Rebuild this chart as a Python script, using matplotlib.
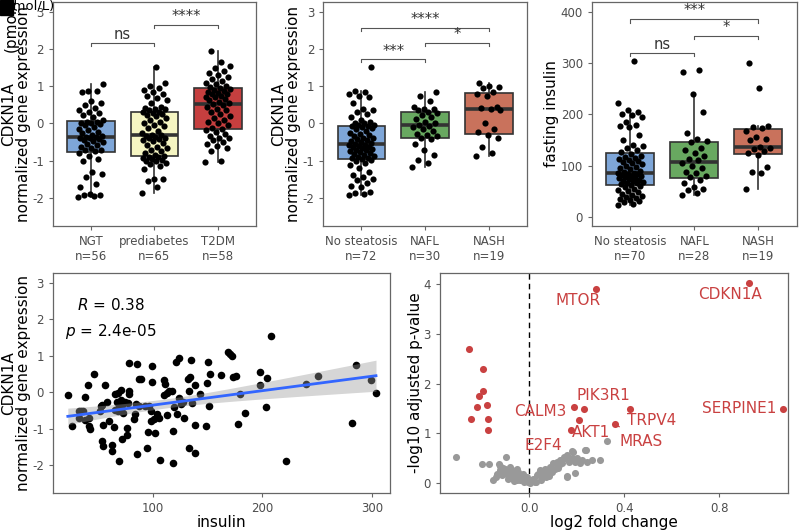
import numpy as np
import matplotlib
matplotlib.use('Agg')
import matplotlib.pyplot as plt
from matplotlib.patches import Rectangle

plt.rcParams['axes.unicode_minus'] = False
plt.rcParams['font.family'] = 'DejaVu Sans'

# --- panel 1: CDKN1A by glycaemic group
glyc_groups = ['NGT', 'prediabetes', 'T2DM']
glyc_n = [56, 65, 58]
ngt = [-1.97, -1.95, -1.92, -1.91, -1.90, -1.72, -1.62, -1.45, -1.37, -1.30, -1.00, -0.95, -0.87, -0.80,
       -0.75, -0.72, -0.70, -0.66, -0.62, -0.58, -0.55, -0.50, -0.47, -0.44, -0.41, -0.39, -0.38, -0.37,
       -0.36, -0.33, -0.30, -0.26, -0.22, -0.18, -0.14, -0.10, -0.05, -0.02, 0.00, 0.02, 0.03, 0.05,
       0.10, 0.18, 0.22, 0.28, 0.32, 0.35, 0.42, 0.50, 0.55, 0.60, 0.84, 0.86, 0.87, 1.06]
prediab = [-1.87, -1.70, -1.55, -1.50, -1.48, -1.22, -1.15, -1.10, -1.05, -1.02, -1.00, -0.97, -0.95, -0.92,
           -0.90, -0.89, -0.88, -0.85, -0.80, -0.75, -0.70, -0.65, -0.62, -0.58, -0.52, -0.48, -0.45, -0.42,
           -0.40, -0.38, -0.36, -0.34, -0.32, -0.30, -0.25, -0.20, -0.12, -0.08, -0.05, 0.00, 0.05, 0.10,
           0.15, 0.20, 0.22, 0.25, 0.28, 0.30, 0.32, 0.35, 0.38, 0.40, 0.42, 0.45, 0.55, 0.62, 0.68, 0.75,
           0.80, 0.85, 0.90, 0.95, 1.00, 1.10, 1.53]
t2dm = [-1.03, -1.00, -0.75, -0.65, -0.60, -0.55, -0.50, -0.45, -0.40, -0.38, -0.33, -0.28, -0.22, -0.18,
        -0.16, -0.12, -0.05, 0.00, 0.05, 0.10, 0.15, 0.20, 0.25, 0.30, 0.35, 0.40, 0.45, 0.50, 0.52,
        0.54, 0.58, 0.62, 0.65, 0.70, 0.72, 0.75, 0.78, 0.80, 0.82, 0.85, 0.88, 0.90, 0.92,
        0.95, 0.98, 1.00, 1.05, 1.10, 1.15, 1.20, 1.25, 1.30, 1.35, 1.40, 1.50, 1.55, 1.65, 1.95]

# --- panel 2: CDKN1A by liver histology
liver_groups = ['No steatosis', 'NAFL', 'NASH']
liver_n = [72, 30, 19]
nosteat = [-1.93, -1.90, -1.88, -1.85, -1.72, -1.68, -1.60, -1.52, -1.50, -1.45, -1.38, -1.30, -1.20, -1.12,
           -1.05, -1.00, -0.97, -0.96, -0.94, -0.92, -0.90, -0.88, -0.85, -0.82, -0.80, -0.78, -0.75, -0.72,
           -0.70, -0.68, -0.66, -0.64, -0.62, -0.60, -0.58, -0.57, -0.55, -0.52, -0.50, -0.47, -0.44, -0.42,
           -0.40, -0.38, -0.35, -0.32, -0.28, -0.25, -0.20, -0.15, -0.12, -0.10, -0.08, -0.07, -0.05, -0.03,
           0.00, 0.02, 0.05, 0.10, 0.18, 0.25, 0.30, 0.35, 0.40, 0.55, 0.70, 0.75, 0.80, 0.84, 0.86, 1.53]
nafl = [-1.18, -1.05, -0.98, -0.85, -0.70, -0.55, -0.42, -0.39, -0.35, -0.32, -0.28, -0.20, -0.15, -0.10,
        -0.06, -0.04, 0.00, 0.05, 0.12, 0.18, 0.22, 0.28, 0.32, 0.35, 0.38, 0.40, 0.45, 0.60, 0.75, 0.85]
nash = [-0.88, -0.80, -0.62, -0.38, -0.30, -0.24, -0.15, 0.00, 0.35, 0.40, 0.42, 0.45, 0.75, 0.78, 0.84,
        0.95, 0.98, 1.00, 1.08]

# --- panel 3: fasting insulin by liver histology
ins_n = [70, 28, 19]
ins_nosteat = [22, 25, 28, 30, 33, 35, 36, 38, 40, 42, 45, 48, 50, 52, 55, 58, 60, 62, 64,
               65, 66, 68, 70, 70, 72, 73, 75, 76, 78, 80, 80, 82, 83, 84, 85, 86,
               88, 90, 94, 96, 98, 100, 102, 105, 107, 109, 111, 113, 115, 117, 118, 123, 126,
               130, 135, 138, 140, 150, 160, 175, 178, 180, 185, 195, 198, 200, 205, 208, 222, 303]
ins_nafl = [42, 47, 52, 55, 58, 65, 72, 78, 80, 85, 88, 95, 100, 105, 110, 112, 118, 125, 130, 135,
            145, 148, 152, 163, 205, 240, 283, 286]
ins_nash = [54, 86, 88, 98, 120, 125, 128, 132, 135, 137, 150, 152, 155, 168, 174, 176, 177, 252, 300]

# --- panel 4: insulin vs CDKN1A
insulin = [22.7, 26.4, 32.7, 34.8, 36.4, 33.3, 37.9, 40.9, 41.8, 38.8, 41.8, 43.0, 46.4, 52.4, 53.0,
           53.9, 54.5, 53.9, 54.5, 56.7, 58.5, 60.0, 65.2, 63.0, 63.0, 66.1, 68.2, 67.3, 69.1, 66.1,
           68.2, 70.6, 71.5, 71.5, 72.1, 72.7, 69.7, 72.1, 76.4, 76.4, 78.2, 78.8, 78.8, 75.2, 77.3,
           82.7, 84.2, 84.8, 85.8, 85.5, 87.3, 89.7, 87.9, 92.7, 94.8, 95.5, 96.4, 98.5, 99.1, 99.1,
           98.5, 101.5, 101.8, 103.9, 105.5, 106.7, 110.0, 111.5, 110.6, 112.7, 113.0, 114.5, 117.6,
           118.2, 118.8, 119.1, 121.2, 123.6, 121.8, 123.6, 125.8, 127.3, 128.8, 132.1, 133.9, 133.3,
           133.3, 134.8, 135.8, 138.5, 138.8, 138.2, 143.3, 148.5, 149.4, 150.6, 152.1, 151.5, 162.1,
           169.1, 170.6, 172.7, 173.3, 175.8, 178.2, 179.7, 184.2, 197.6, 197.6, 204.2, 203.0, 208.0,
           221.2, 239.4, 250.6, 281.8, 285.5, 299.1, 303.6]
cdkn1a = [-0.07, -0.94, -0.51, -0.51, -0.53, -0.71, -0.76, 0.20, -0.71, -0.14, -0.92, -1.00, 0.50, -0.51,
          -0.39, -0.35, -0.90, -1.35, -1.47, 0.20, -0.28, -0.79, -0.96, -1.44, -1.63, -0.05, -0.03, -0.26,
          -0.39, -0.50, -0.53, -0.50, 0.05, -0.21, -0.35, -0.58, -1.90, -1.29, -1.17, -0.99, 0.81, 0.02,
          -0.05, -0.28, -0.30, -0.74, -0.60, -0.32, 0.78, -1.70, 0.36, 0.36, -0.37, -0.37, -1.53, -1.10,
          -0.39, -0.80, 0.72, 0.29, -0.51, -0.74, -1.12, -0.59, -0.70, -1.87, 0.32, 0.23, -0.07, -0.03,
          -0.64, 0.02, 0.02, -1.95, -1.08, -0.42, 0.84, 0.93, -0.59, -0.16, -0.32, -0.28, -0.71, 0.36,
          0.41, 0.02, -1.53, 0.87, -0.30, -1.67, 0.20, -0.91, -0.05, -0.92, 0.26, 0.84, 0.50, -0.37,
          0.46, 1.10, 1.05, 1.00, 0.41, 0.43, -0.87, -0.05, -0.56, 0.55, 0.20, 0.38, -0.42, 1.53,
          -1.90, 0.23, 0.43, -0.85, 0.75, 0.32, -0.03]

# --- panel 5: volcano
sig_genes = ['CDKN1A', 'MTOR', 'SERPINE1', 'TRPV4', 'PIK3R1', 'CALM3', 'AKT1', 'MRAS', 'E2F4']
sig_lfc = [0.926, 0.282, 1.071, 0.425, 0.230, 0.188, 0.212, 0.362, 0.177]
sig_p = [4.02, 3.90, 1.49, 1.49, 1.49, 1.53, 1.27, 1.19, 1.06]
down_lfc = [-0.255, -0.195, -0.192, -0.209, -0.218, -0.178, -0.246, -0.174, -0.171]
down_p = [2.69, 2.30, 1.85, 1.75, 1.53, 1.57, 1.28, 1.28, 1.06]
ns_lfc = [-0.307, -0.197, -0.169, -0.097, -0.125, -0.150, -0.136, -0.122, -0.115, -0.101, -0.094, -0.087,
          -0.080, -0.073, -0.066, -0.059, -0.052, -0.045, -0.038, -0.031, -0.024, -0.017, -0.010, -0.003,
          0.004, -0.038, -0.052, -0.073, -0.108, -0.122, -0.140, -0.090, -0.065, -0.045, -0.020, -0.110,
          0.011, 0.018, 0.025, 0.032, 0.039, 0.046, 0.053, 0.060, 0.067, 0.074, 0.081, 0.088, 0.095, 0.102,
          0.109, 0.116, 0.124, 0.131, 0.138, 0.145, 0.152, 0.159, 0.166, 0.180, 0.187, 0.194, 0.201, 0.215,
          0.222, 0.236, 0.243, 0.264, 0.299, 0.327, 0.194, 0.159, 0.050, 0.070, 0.030, 0.085, 0.120, 0.182,
          0.239, 0.160]
ns_p = [0.53, 0.38, 0.39, 0.53, 0.39, 0.07, 0.19, 0.26, 0.16, 0.29, 0.23, 0.16,
        0.33, 0.26, 0.19, 0.13, 0.29, 0.23, 0.16, 0.09, 0.19, 0.06, 0.13, 0.03,
        0.01, 0.06, 0.07, 0.11, 0.19, 0.34, 0.12, 0.08, 0.04, 0.12, 0.02, 0.30,
        0.06, 0.09, 0.03, 0.16, 0.19, 0.26, 0.13, 0.23, 0.29, 0.19, 0.26, 0.33, 0.23, 0.40,
        0.29, 0.43, 0.36, 0.46, 0.40, 0.53, 0.50, 0.56, 0.43, 0.50, 0.63, 0.43, 0.50, 0.40,
        0.46, 0.66, 0.43, 0.46, 0.46, 0.84, 0.21, 0.14, 0.07, 0.12, 0.02, 0.15, 0.30, 0.64,
        0.66, 0.13]

blue = '#7ea6d8'
red = '#c94141'
tick_col = '#4d4d4d'
edge = '#333333'


def style(ax):
    for s in ax.spines.values():
        s.set_color('#666666')
        s.set_linewidth(0.9)
    ax.tick_params(colors='#666666', labelcolor=tick_col, labelsize=8.5, length=3, width=0.8)


def jitter(n, width=0.2):
    # fixed, evenly spread horizontal offsets
    return ((np.arange(n) * 0.618034) % 1.0 - 0.5) * 2 * width


def boxes(ax, data, colors):
    bp = ax.boxplot(data, positions=[1, 2, 3], widths=0.75, patch_artist=True, showfliers=False,
                    showcaps=False, whis=1.5,
                    boxprops=dict(edgecolor=edge, linewidth=1.2),
                    whiskerprops=dict(color=edge, linewidth=1.2),
                    medianprops=dict(color=edge, linewidth=2.6))
    for patch, c in zip(bp['boxes'], colors):
        patch.set_facecolor(c)
    for i, d in enumerate(data):
        ax.scatter(i + 1 + jitter(len(d)), d, s=20, color='black', zorder=3, linewidths=0)
    ax.set_xlim(0.4, 3.6)


def bracket(ax, x1, x2, y, label, tip):
    ax.plot([x1, x1, x2, x2], [y - tip, y, y, y - tip], color='#555555', lw=0.8)
    ax.text((x1 + x2) / 2, y + tip * 0.2, label, ha='center', va='bottom', fontsize=10.5, color='#333333')


def ylab(ax, text, xpos):
    ax.set_ylabel(text, fontsize=11, linespacing=1.0)
    ax.yaxis.set_label_coords(xpos, 0.5)


fig = plt.figure(figsize=(8, 5.3), dpi=100)

ax1 = fig.add_axes([0.066, 0.574, 0.254, 0.4226])
boxes(ax1, [ngt, prediab, t2dm], [blue, '#f5f5c2', '#c63f3f'])
ax1.set_ylim(-2.75, 3.27)
ax1.set_yticks([-2, -1, 0, 1, 2, 3])
ax1.set_xticks([1, 2, 3])
ax1.set_xticklabels([f'{g}\nn={n}' for g, n in zip(glyc_groups, glyc_n)])
ylab(ax1, 'CDKN1A\nnormalized gene expression', -0.108)
bracket(ax1, 1, 2, 2.17, 'ns', 0.08)
bracket(ax1, 2, 3, 2.65, '****', 0.08)
style(ax1)

ax2 = fig.add_axes([0.404, 0.574, 0.255, 0.4226])
boxes(ax2, [nosteat, nafl, nash], [blue, '#68a860', '#c9725c'])
ax2.set_ylim(-2.75, 3.27)
ax2.set_yticks([-2, -1, 0, 1, 2, 3])
ax2.set_xticks([1, 2, 3])
ax2.set_xticklabels([f'{g}\nn={n}' for g, n in zip(liver_groups, liver_n)])
ylab(ax2, 'CDKN1A\nnormalized gene expression', -0.108)
bracket(ax2, 1, 3, 2.57, '****', 0.08)
bracket(ax2, 2, 3, 2.17, '*', 0.08)
bracket(ax2, 1, 2, 1.73, '***', 0.08)
style(ax2)

ax3 = fig.add_axes([0.74, 0.574, 0.256, 0.4226])
boxes(ax3, [ins_nosteat, ins_nafl, ins_nash], [blue, '#68a860', '#c9725c'])
ax3.set_ylim(-17.6, 419.5)
ax3.set_yticks([0, 100, 200, 300, 400])
ax3.set_xticks([1, 2, 3])
ax3.set_xticklabels([f'{g}\nn={n}' for g, n in zip(liver_groups, ins_n)])
ylab(ax3, 'fasting insulin', -0.16)
bracket(ax3, 1, 3, 386, '***', 7)
bracket(ax3, 2, 3, 353, '*', 7)
bracket(ax3, 1, 2, 320, 'ns', 7)
style(ax3)

# scatter with linear fit and 95% band
ax4 = fig.add_axes([0.066, 0.0698, 0.421, 0.415])
x = np.array(insulin)
y = np.array(cdkn1a)
ax4.scatter(x, y, s=30, color='black', linewidths=0, zorder=2)
b, a = np.polyfit(x, y, 1)
xs = np.linspace(x.min(), x.max(), 100)
resid = y - (a + b * x)
se = np.sqrt(np.sum(resid ** 2) / (len(x) - 2))
band = 1.98 * se * np.sqrt(1 / len(x) + (xs - x.mean()) ** 2 / np.sum((x - x.mean()) ** 2))
ax4.fill_between(xs, a + b * xs - band, a + b * xs + band, color='#999999', alpha=0.4, linewidth=0, zorder=3)
ax4.plot(xs, a + b * xs, color='#3366ff', lw=2, zorder=4)
ax4.text(62, 2.4, '$R$ = 0.38', ha='center', va='center', fontsize=11)
ax4.text(62, 1.66, '$p$ = 2.4e-05', ha='center', va='center', fontsize=11)
ax4.set_xlim(9, 316)
ax4.set_ylim(-2.77, 3.27)
ax4.set_xticks([100, 200, 300])
ax4.set_yticks([-2, -1, 0, 1, 2, 3])
ax4.set_xlabel('insulin', fontsize=11, labelpad=0)
ylab(ax4, 'CDKN1A\nnormalized gene expression', -0.065)
style(ax4)

# volcano
ax5 = fig.add_axes([0.55, 0.0698, 0.435, 0.415])
ax5.scatter(ns_lfc, ns_p, s=26, color='#999999', linewidths=0, zorder=2)
ax5.scatter(down_lfc, down_p, s=26, color=red, linewidths=0, zorder=3)
ax5.scatter(sig_lfc, sig_p, s=26, color=red, linewidths=0, zorder=3)
ax5.axvline(0, color='black', ls=(0, (4, 3)), lw=1, zorder=1)
label_pos = {'CDKN1A': (0.845, 3.78), 'MTOR': (0.205, 3.66), 'SERPINE1': (0.884, 1.49),
             'TRPV4': (0.517, 1.25), 'PIK3R1': (0.313, 1.75), 'CALM3': (0.049, 1.43),
             'AKT1': (0.259, 1.02), 'MRAS': (0.471, 0.83), 'E2F4': (0.059, 0.76)}
for g, lx, lp in zip(sig_genes, sig_lfc, sig_p):
    tx, ty = label_pos[g]
    if g in ('E2F4', 'MRAS'):
        ax5.annotate(g, xy=(lx, lp), xytext=(tx, ty), ha='center', va='center', fontsize=11, color=red,
                     arrowprops=dict(arrowstyle='-', color=red, lw=1, shrinkA=6, shrinkB=3))
    else:
        ax5.text(tx, ty, g, ha='center', va='center', fontsize=11, color=red)
ax5.set_xlim(-0.375, 1.09)
ax5.set_ylim(-0.2, 4.22)
ax5.set_xticks([0.0, 0.4, 0.8])
ax5.set_xticklabels(['0.0', '0.4', '0.8'])
ax5.set_yticks([0, 1, 2, 3, 4])
ax5.set_xlabel('log2 fold change', fontsize=11, labelpad=0)
ylab(ax5, '-log10 adjusted p-value', -0.05)
style(ax5)

# stray label fragments in the top-left corner of the original
fig.text(0.0, 1 - 10 / 530, '(pmol/L)', fontsize=9.5, ha='left', va='baseline')
fig.text(11 / 800, 1 - 52 / 530, '(pmol/L)', fontsize=11, rotation=90, ha='center', va='bottom')
fig.add_artist(Rectangle((0, 1 - 15 / 530), 13 / 800, 15 / 530, transform=fig.transFigure, color='black'))

fig.savefig('out.png', dpi=100)
